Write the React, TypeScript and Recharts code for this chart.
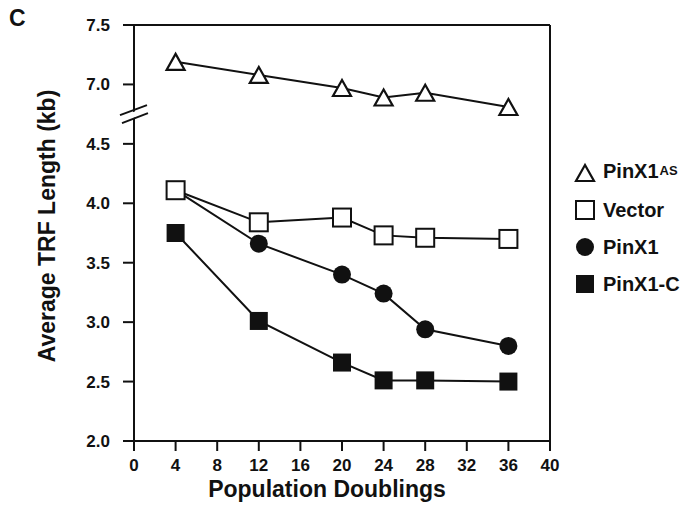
import React from 'react';
import { LineChart, Line, XAxis, YAxis, ReferenceLine, ReferenceDot, Legend, Label } from 'recharts';

const doublings = [4, 12, 20, 24, 28, 36];
const pinX1AS = [7.19, 7.08, 6.97, 6.89, 6.93, 6.81];
const vector = [4.11, 3.84, 3.88, 3.73, 3.71, 3.7];
const pinX1 = [4.11, 3.66, 3.4, 3.24, 2.94, 2.8];
const pinX1C = [3.75, 3.01, 2.66, 2.51, 2.51, 2.5];

const xTicks = [0, 4, 8, 12, 16, 20, 24, 28, 32, 36, 40];
const yTicks = [2.0, 2.5, 3.0, 3.5, 4.0, 4.5, 7.0, 7.5];

const legendItems = [
  { label: 'PinX1', sup: 'AS', icon: 'triangle' },
  { label: 'Vector', sup: '', icon: 'openSquare' },
  { label: 'PinX1', sup: '', icon: 'circle' },
  { label: 'PinX1-C', sup: '', icon: 'square' },
];

const FONT = '"Liberation Sans", Arial, Helvetica, sans-serif';
const INK = '#111';
const LEGEND_W = 113;

// broken y axis: everything above the break is shifted down by 2 kb
const BREAK_SHIFT = 2;
const toAxis = (v: number) => (v > 5 ? v - BREAK_SHIFT : v);
const fromAxis = (v: number) => (v > 4.75 ? v + BREAK_SHIFT : v);

const chartData = doublings.map((d, i) => ({
  pd: d,
  pinX1AS: toAxis(pinX1AS[i]),
  vector: toAxis(vector[i]),
  pinX1: toAxis(pinX1[i]),
  pinX1C: toAxis(pinX1C[i]),
}));

const Marker = ({ type, cx, cy }: { type: string; cx: number; cy: number }) => {
  if (type === 'triangle') {
    return (
      <polygon
        points={`${cx},${cy - 8} ${cx - 9},${cy + 8} ${cx + 9},${cy + 8}`}
        fill="#fff"
        stroke={INK}
        strokeWidth={2.2}
      />
    );
  }
  if (type === 'openSquare') {
    return <rect x={cx - 9} y={cy - 9} width={18} height={18} fill="#fff" stroke={INK} strokeWidth={2} />;
  }
  if (type === 'circle') {
    return <circle cx={cx} cy={cy} r={9} fill={INK} />;
  }
  return <rect x={cx - 9} y={cy - 9} width={18} height={18} fill={INK} />;
};

const makeDot = (type: string) => (props: any) => (
  <g key={`${type}-${props.index}`}>
    <Marker type={type} cx={props.cx} cy={props.cy} />
  </g>
);

const BreakMark = (props: any) => {
  const { cx, cy } = props;
  return (
    <g>
      <polygon
        points={`${cx - 4},${cy - 1} ${cx + 4},${cy - 4} ${cx + 4},${cy + 2} ${cx - 4},${cy + 5}`}
        fill="#fff"
      />
      <line x1={cx - 14} y1={cy + 1} x2={cx + 13} y2={cy - 9} stroke={INK} strokeWidth={2} />
      <line x1={cx - 12} y1={cy + 9} x2={cx + 14} y2={cy - 1} stroke={INK} strokeWidth={2} />
    </g>
  );
};

const LegendContent = () => (
  <div style={{ fontFamily: FONT, fontWeight: 700, color: INK, width: LEGEND_W }}>
    {legendItems.map((item, i) => (
      <div key={i} style={{ display: 'flex', alignItems: 'center', height: 37 }}>
        <svg width={22} height={22} style={{ marginRight: 7 }}>
          <Marker type={item.icon} cx={11} cy={11} />
        </svg>
        <span style={{ fontSize: 20, lineHeight: '22px', whiteSpace: 'nowrap' }}>
          {item.label}
          {item.sup && (
            <span style={{ fontSize: 13, position: 'relative', top: -3, marginLeft: 1 }}>{item.sup}</span>
          )}
        </span>
      </div>
    ))}
  </div>
);

const YTitle = () => (
  <text
    x={47}
    y={226}
    transform="rotate(-90, 47, 226)"
    textAnchor="middle"
    dominantBaseline="central"
    fontFamily={FONT}
    fontWeight={700}
    fontSize={23}
    fill={INK}
  >
    Average TRF Length (kb)
  </text>
);

const XTitle = () => (
  <text x={327} y={497} textAnchor="middle" fontFamily={FONT} fontWeight={700} fontSize={23} fill={INK}>
    Population Doublings
  </text>
);

export default function App() {
  const tickStyle = { fontSize: 17, fontWeight: 700, fill: INK, fontFamily: FONT };
  return (
    <div style={{ position: 'relative', width: 687, height: 509, background: '#fff', fontFamily: FONT }}>
      <style>{'body{margin:0}'}</style>
      <div
        style={{ position: 'absolute', left: 9, top: 5, fontSize: 23, fontWeight: 700, color: INK, zIndex: 2 }}
      >
        C
      </div>
      <LineChart
        width={687}
        height={509}
        data={chartData}
        margin={{ top: 25, right: 137 - LEGEND_W, bottom: 0, left: 0 }}
      >
        <XAxis
          dataKey="pd"
          type="number"
          domain={[0, 40]}
          ticks={xTicks}
          interval={0}
          height={68}
          tick={tickStyle}
          tickSize={10}
          tickMargin={8}
          axisLine={{ stroke: INK, strokeWidth: 2 }}
          tickLine={{ stroke: INK, strokeWidth: 2 }}
        >
          <Label content={XTitle} />
        </XAxis>
        <YAxis
          type="number"
          domain={[2, 5.5]}
          ticks={yTicks.map(toAxis)}
          interval={0}
          width={134}
          tick={tickStyle}
          tickSize={11}
          tickMargin={13}
          tickFormatter={(v: number) => fromAxis(v).toFixed(1)}
          axisLine={{ stroke: INK, strokeWidth: 2 }}
          tickLine={{ stroke: INK, strokeWidth: 2 }}
        >
          <Label content={YTitle} />
        </YAxis>
        <ReferenceLine y={5.5} stroke={INK} strokeWidth={2} />
        <ReferenceLine x={40} stroke={INK} strokeWidth={2} />
        <Line dataKey="pinX1C" stroke={INK} strokeWidth={2} dot={makeDot('square')} activeDot={false} isAnimationActive={false} />
        <Line dataKey="pinX1" stroke={INK} strokeWidth={2} dot={makeDot('circle')} activeDot={false} isAnimationActive={false} />
        <Line dataKey="vector" stroke={INK} strokeWidth={2} dot={makeDot('openSquare')} activeDot={false} isAnimationActive={false} />
        <Line dataKey="pinX1AS" stroke={INK} strokeWidth={2} dot={makeDot('triangle')} activeDot={false} isAnimationActive={false} />
        <ReferenceDot x={0} y={4.75} shape={BreakMark} />
        <Legend
          layout="vertical"
          verticalAlign="top"
          align="right"
          content={LegendContent}
          wrapperStyle={{ left: 574, top: 154, width: LEGEND_W, right: 'auto', bottom: 'auto' }}
        />
      </LineChart>
    </div>
  );
}
